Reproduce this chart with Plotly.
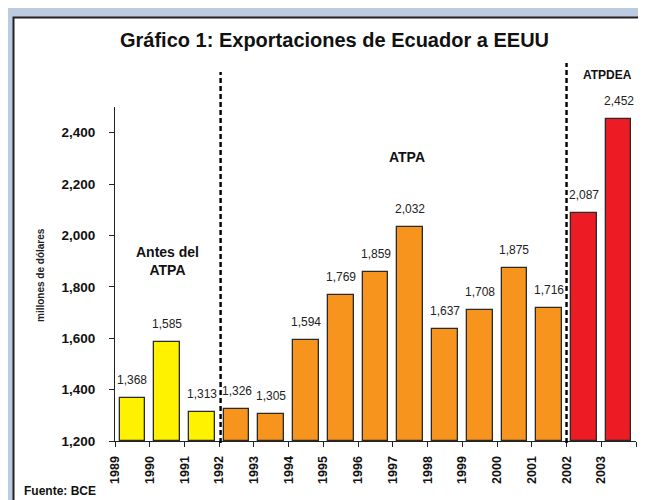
import plotly.graph_objects as go

years = ["1989", "1990", "1991", "1992", "1993", "1994", "1995", "1996",
         "1997", "1998", "1999", "2000", "2001", "2002", "2003"]
values = [1368, 1585, 1313, 1326, 1305, 1594, 1769, 1859, 2032, 1637,
          1708, 1875, 1716, 2087, 2452]
periods = ["Antes"] * 3 + ["ATPA"] * 10 + ["ATPDEA"] * 2
period_colors = {"Antes": "#FFF200", "ATPA": "#F7941D", "ATPDEA": "#ED1C24"}

# page body has an 8px margin: figure drawn at screen offset (8, 8)
OFF = 8
W, H = 646 - OFF, 500 - OFF
L, R, T, B = 115 - OFF, 10, 107 - OFF, 59
pw, ph = W - L - R, H - T - B

def px_x(s):
    return (s - OFF - L) / pw

def px_y(s):
    return (H - B - (s - OFF)) / ph

FONT = "Liberation Sans, Arial, sans-serif"

xpos = [i + 0.5 for i in range(len(years))]

fig = go.Figure()
fig.add_trace(go.Bar(
    x=xpos, y=[v - 1200 for v in values], base=1200,
    width=0.74,
    marker=dict(color=[period_colors[p] for p in periods],
                line=dict(color="#2a2a2a", width=1.3)),
    hoverinfo="skip",
))

def ann(**kw):
    d = dict(showarrow=False, xanchor="center", yanchor="middle")
    d.update(kw)
    return d

annotations = []
for x, v in zip(xpos, values):
    annotations.append(ann(x=x, y=v, xref="x", yref="y", text=f"{v:,}",
                           yanchor="bottom", yshift=9,
                           font=dict(family=FONT, size=12, color="#222")))

annotations += [
    ann(x=1.5, y=1900, xref="x", yref="y", text="<b>Antes del<br>ATPA</b>",
        font=dict(family=FONT, size=14, color="#111")),
    ann(x=8.4, y=2305, xref="x", yref="y", text="<b>ATPA</b>",
        font=dict(family=FONT, size=14, color="#111")),
    ann(x=14.17, y=px_y(75), xref="x", yref="paper", text="<b>ATPDEA</b>",
        font=dict(family=FONT, size=12, color="#111")),
    ann(x=px_x(334), y=px_y(40), xref="paper", yref="paper",
        text="<b>Gráfico 1: Exportaciones de Ecuador a EEUU</b>",
        font=dict(family=FONT, size=20, color="#111")),
    ann(x=px_x(40), y=px_y(275), xref="paper", yref="paper",
        text="<b>millones de dólares</b>", textangle=-90,
        font=dict(family=FONT, size=10, color="#222")),
    ann(x=px_x(22), y=px_y(491), xref="paper", yref="paper",
        text="<b>Fuente: BCE</b>", xanchor="left",
        font=dict(family=FONT, size=12, color="#111")),
]

shapes = [
    # light blue frame
    dict(type="rect", xref="paper", yref="paper", layer="below",
         x0=px_x(0), x1=px_x(700), y0=px_y(560), y1=px_y(7),
         fillcolor="#BCCBE0", line=dict(width=0)),
    # white panel with dark border
    dict(type="rect", xref="paper", yref="paper", layer="below",
         x0=px_x(13.5), x1=px_x(720), y0=px_y(580), y1=px_y(17.5),
         fillcolor="white", line=dict(color="#222", width=2)),
    # dashed period separators
    dict(type="line", xref="x", yref="paper", x0=3.04, x1=3.04,
         y0=px_y(443), y1=px_y(72), line=dict(color="black", width=2.4, dash="5px,3px")),
    dict(type="line", xref="x", yref="paper", x0=13.0, x1=13.0,
         y0=px_y(443), y1=px_y(63), line=dict(color="black", width=2.4, dash="5px,3px")),
]

fig.update_layout(
    width=W, height=H,
    margin=dict(l=L, r=R, t=T, b=B),
    paper_bgcolor="white", plot_bgcolor="rgba(0,0,0,0)",
    showlegend=False, bargap=0,
    annotations=annotations, shapes=shapes,
    xaxis=dict(range=[0, 15], tickmode="array",
               tickvals=list(range(16)),
               ticktext=[f"<b>{y}</b>" for y in years] + [""],
               tickangle=-90, ticks="outside", ticklen=5, tickcolor="#222",
               showline=True, linecolor="#222", linewidth=1.2,
               showgrid=False, zeroline=False,
               tickfont=dict(family=FONT, size=12.5, color="#111"),
               ticklabelstandoff=4),
    yaxis=dict(range=[1200, 2500], tickmode="array",
               tickvals=[1200, 1400, 1600, 1800, 2000, 2200, 2400],
               ticktext=["<b>1,200</b>", "<b>1,400</b>", "<b>1,600</b>", "<b>1,800</b>",
                         "<b>2,000</b>", "<b>2,200</b>", "<b>2,400</b>"],
               ticks="outside", ticklen=5, tickcolor="#222",
               showline=True, linecolor="#222", linewidth=1.2,
               showgrid=False, zeroline=False,
               tickfont=dict(family=FONT, size=13.5, color="#111"),
               ticklabelstandoff=11),
)

fig.write_html("out.html")
